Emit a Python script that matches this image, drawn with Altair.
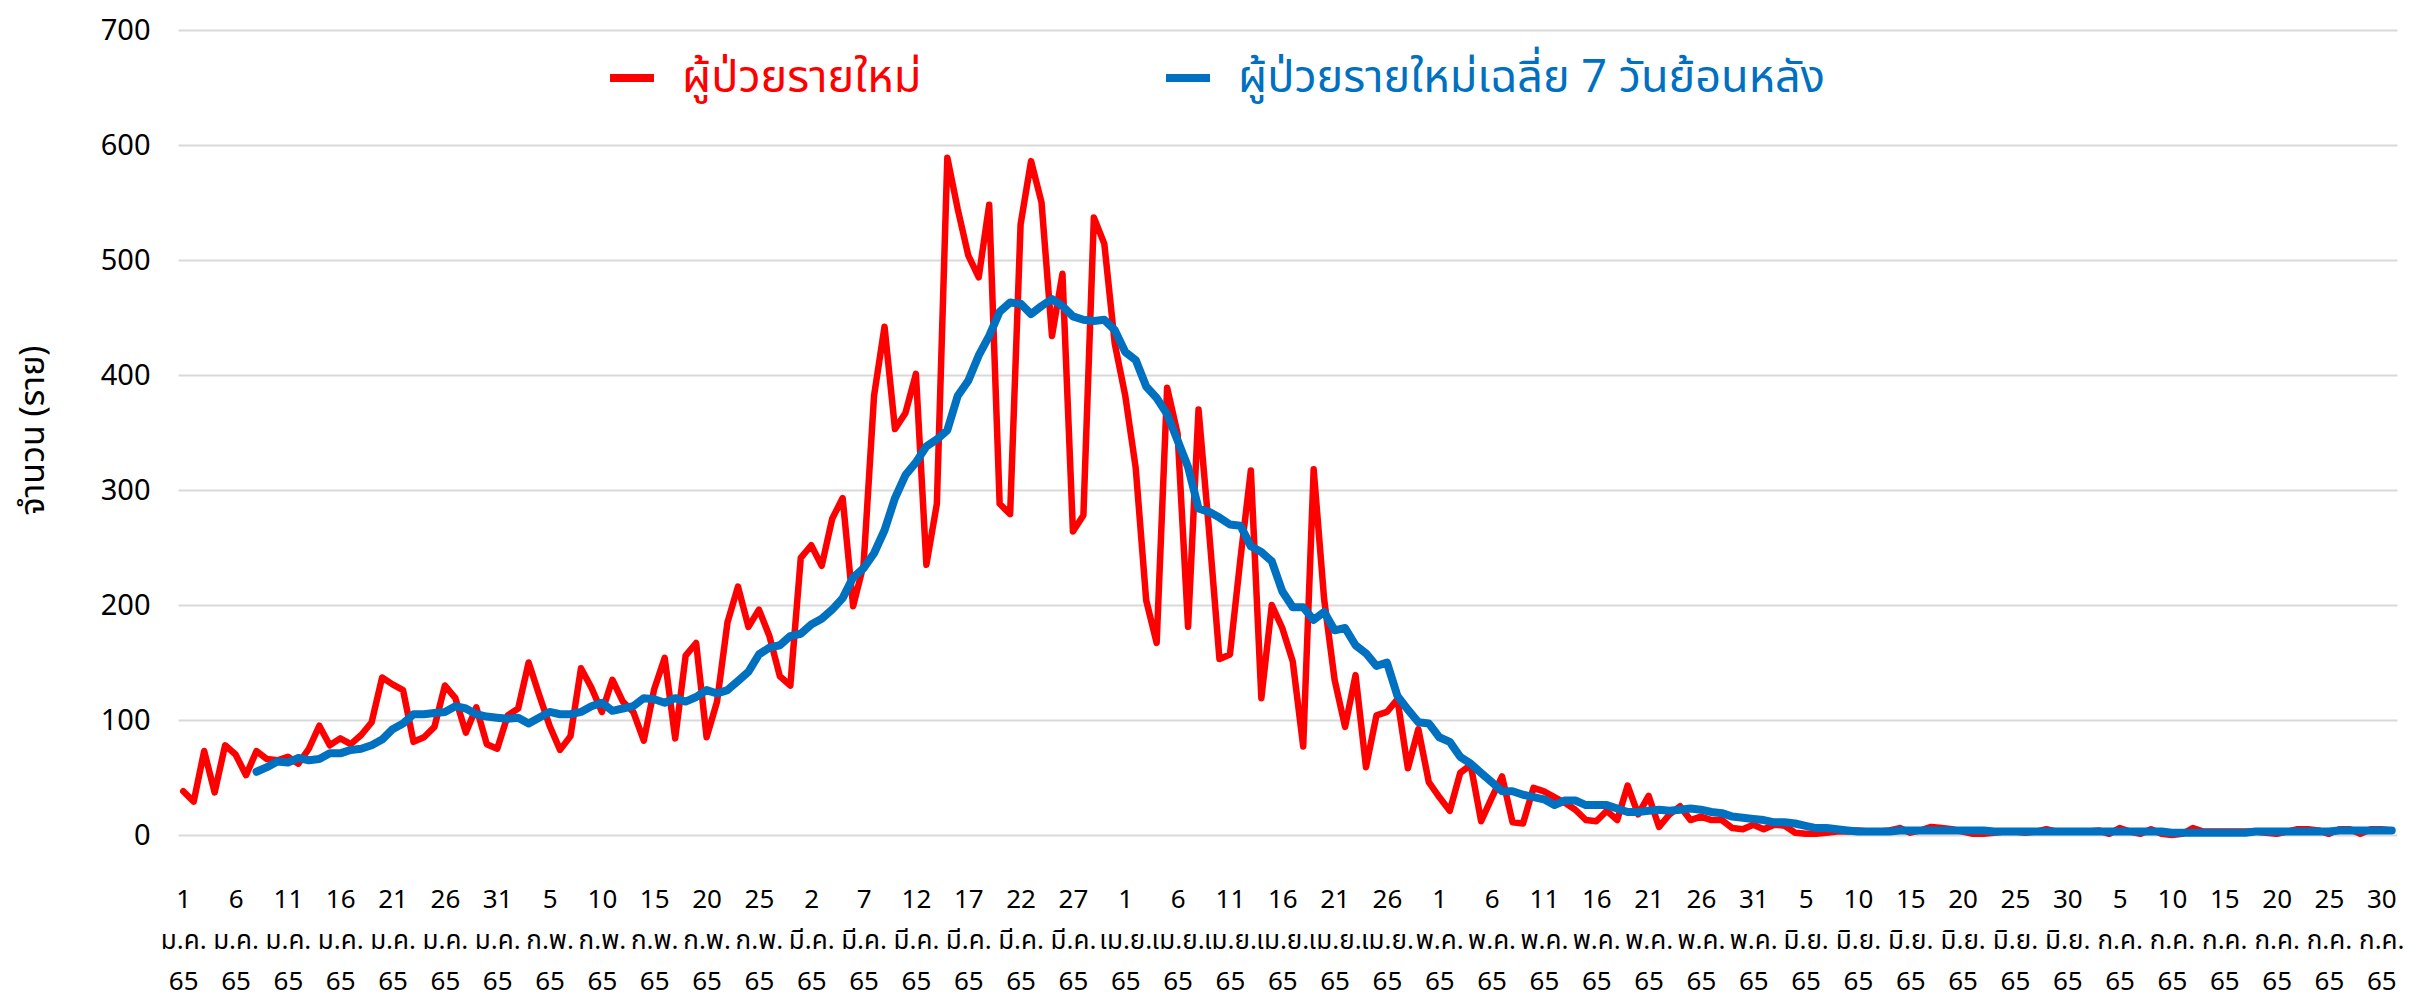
import json
import altair as alt
import pandas as pd

# ---------------- data ----------------
SERIES_NEW = "ผู้ป่วยรายใหม่"
SERIES_AVG = "ผู้ป่วยรายใหม่เฉลี่ย 7 วันย้อนหลัง"

# daily new cases, 1 Jan 65 .. 31 Jul 65 (212 days)
new_cases = [
    38, 29, 73, 37, 78, 70, 52, 73, 66, 65,
    68, 62, 75, 95, 78, 84, 79, 87, 98, 137,
    131, 126, 81, 85, 94, 130, 119, 89, 111, 79,
    75, 104, 110, 150, 122, 95, 74, 86, 145, 128,
    107, 135, 116, 107, 82, 127, 154, 84, 156, 167,
    85, 116, 185, 216, 181, 196, 173, 138, 130, 241,
    252, 234, 275, 293, 199, 235, 382, 442, 353, 367,
    401, 235, 288, 589, 544, 504, 485, 548, 288, 279,
    531, 586, 550, 434, 488, 264, 278, 537, 514, 427,
    382, 319, 204, 167, 389, 349, 181, 370, 265, 153,
    157, 240, 317, 119, 200, 180, 151, 77, 318, 205,
    135, 94, 139, 59, 104, 107, 118, 58, 92, 46,
    33, 21, 54, 61, 12, 32, 51, 11, 10, 41,
    38, 33, 28, 22, 13, 12, 21, 13, 43, 18,
    34, 7, 18, 25, 13, 16, 13, 13, 6, 5,
    9, 5, 9, 8, 2, 1, 1, 2, 3, 3,
    4, 3, 3, 4, 6, 2, 4, 7, 6, 5,
    3, 1, 1, 2, 3, 3, 2, 3, 5, 3,
    3, 3, 3, 4, 1, 6, 3, 1, 5, 1,
    0, 1, 6, 3, 3, 3, 3, 3, 3, 2,
    1, 3, 5, 5, 4, 1, 5, 5, 1, 5,
    5, 4,
]

# 7-day average (starts on day index 7)
avg_cases = [
    None, None, None, None, None, None, None, 55, 59, 64,
    63, 67, 65, 66, 71, 71, 74, 75, 78, 83,
    92, 97, 105, 105, 106, 107, 112, 110, 105, 103,
    102, 101, 102, 97, 102, 107, 105, 105, 107, 112,
    115, 108, 110, 112, 119, 118, 115, 119, 116, 120,
    126, 123, 126, 134, 142, 157, 163, 165, 173, 175,
    183, 188, 196, 206, 224, 232, 245, 265, 293, 313,
    324, 338, 344, 352, 382, 395, 417, 434, 455, 463,
    462, 453, 460, 466, 460, 451, 448, 447, 448, 439,
    420, 413, 390, 380, 366, 343, 320, 284, 281, 276,
    270, 269, 251, 246, 238, 212, 198, 198, 187, 194,
    178, 180, 165, 158, 147, 150, 121, 109, 98, 97,
    85, 81, 68, 62, 54, 46, 38, 38, 35, 33,
    31, 26, 30, 30, 26, 26, 26, 23, 20, 20,
    21, 22, 21, 22, 23, 22, 20, 19, 16, 15,
    14, 13, 11, 11, 10, 8, 6, 6, 5, 4,
    3, 3, 3, 3, 4, 4, 4, 4, 4, 4,
    4, 4, 4, 3, 3, 3, 3, 3, 3, 3,
    3, 3, 3, 3, 3, 3, 3, 3, 3, 3,
    2, 2, 2, 2, 2, 2, 2, 2, 3, 3,
    3, 3, 3, 3, 3, 3, 4, 4, 4, 4,
    4, 4,
]

# x tick labels (every 5th day)
tick_days = ["1", "6", "11", "16", "21", "26", "31",
             "5", "10", "15", "20", "25",
             "2", "7", "12", "17", "22", "27",
             "1", "6", "11", "16", "21", "26",
             "1", "6", "11", "16", "21", "26", "31",
             "5", "10", "15", "20", "25", "30",
             "5", "10", "15", "20", "25", "30"]
tick_months = (["ม.ค."] * 7 + ["ก.พ."] * 5 + ["มี.ค."] * 6 + ["เม.ย."] * 6
               + ["พ.ค."] * 7 + ["มิ.ย."] * 6 + ["ก.ค."] * 6)
tick_years = ["65"] * len(tick_days)

y_ticks = [0, 100, 200, 300, 400, 500, 600, 700]

# ---------------- build table ----------------
rows = []
for i, v in enumerate(new_cases):
    rows.append({"idx": i, "series": SERIES_NEW, "value": v})
for i, v in enumerate(avg_cases):
    if v is not None:
        rows.append({"idx": i, "series": SERIES_AVG, "value": v})
df = pd.DataFrame(rows)

tick_values = [5 * k for k in range(len(tick_days))]
label_lines = [[d, m, y] for d, m, y in zip(tick_days, tick_months, tick_years)]
label_expr = json.dumps(label_lines, ensure_ascii=False) + "[round(datum.value/5)]"

FONT = "Tahoma, 'Noto Sans Thai', 'Leelawadee UI', 'Noto Sans', sans-serif"
RED = "#FF0000"
BLUE = "#0070C0"

color = alt.Color(
    "series:N",
    scale=alt.Scale(domain=[SERIES_NEW, SERIES_AVG], range=[RED, BLUE]),
    legend=alt.Legend(
        title=None,
        orient="none",
        legendX=428,
        legendY=22,
        direction="horizontal",
        symbolType="stroke",
        symbolSize=1936,
        symbolStrokeWidth=8,
        labelFontSize=45,
        labelFont=FONT,
        labelOffset=24,
        columnPadding=228,
        labelLimit=2000,
        padding=0,
        labelColor={"expr": f"datum.label == '{SERIES_NEW}' ? '{RED}' : '{BLUE}'"},
    ),
)

x = alt.X(
    "idx:Q",
    scale=alt.Scale(domain=[-0.5, 211.5], nice=False, zero=False),
    axis=alt.Axis(
        title=None,
        values=tick_values,
        labelExpr=label_expr,
        labelOverlap=False,
        labelFlush=False,
        labelBound=False,
        labelFontSize=26,
        labelFont=FONT,
        labelColor="#000000",
        labelLineHeight=41,
        labelBaseline="top",
        labelPadding=51,
        grid=False,
        domain=False,
        ticks=False,
    ),
)

y = alt.Y(
    "value:Q",
    scale=alt.Scale(domain=[0, 700], nice=False),
    axis=alt.Axis(
        title="จำนวน (ราย)",
        titleFont=FONT,
        titleFontSize=34,
        titleFontWeight="normal",
        titleColor="#000000",
        titleX=-145,
        titleY=400,
        titleAngle=270,
        titleAlign="center",
        titleBaseline="middle",
        values=y_ticks,
        labelFontSize=29,
        labelFont=FONT,
        labelColor="#000000",
        labelPadding=28,
        gridColor="#D9D9D9",
        gridWidth=2,
        domain=False,
        ticks=False,
    ),
)

base = alt.Chart(df)
red_line = base.transform_filter(alt.datum.series == SERIES_NEW).mark_line(
    strokeWidth=6.5, strokeJoin="round", strokeCap="round"
).encode(x=x, y=y, color=color)
blue_line = base.transform_filter(alt.datum.series == SERIES_AVG).mark_line(
    strokeWidth=8, strokeJoin="round", strokeCap="round"
).encode(x=x, y=y, color=color)

chart = alt.layer(red_line, blue_line).properties(
    width=2219,
    height=805,
    autosize=alt.AutoSizeParams(type="none"),
    padding={"left": 170, "top": 22, "right": 20, "bottom": 165},
    background="white",
).configure_view(stroke=None)

chart.save("out.html", embed_options={"renderer": "svg", "actions": False})
